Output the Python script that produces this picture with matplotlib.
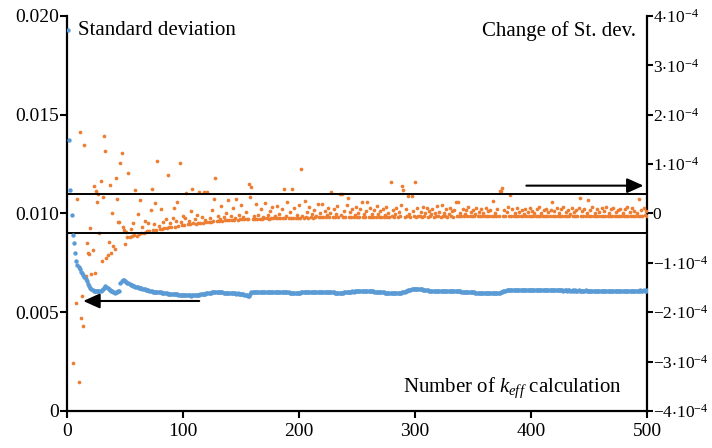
import matplotlib
matplotlib.use("Agg")
import matplotlib.pyplot as plt
import numpy as np

plt.rcParams['font.family'] = ['Liberation Serif', 'DejaVu Serif']
plt.rcParams['mathtext.fontset'] = 'custom'
plt.rcParams['mathtext.rm'] = 'Liberation Serif'
plt.rcParams['mathtext.it'] = 'Liberation Serif:italic'

# standard deviation, units of 1e-5 (left axis), x = 1..500
std_dev = [
    1930, 1370, 1120, 990, 890, 850, 800, 760, 740, 730, 720, 705, 700, 690, 678, 668, 658, 645, 635, 625,
    618, 612, 610, 608, 607, 608, 609, 610, 610, 612, 618, 625, 632, 628, 622, 618, 614, 610, 606, 602,
    599, 600, 603, 607, 606, 650, 658, 662, 664, 660, 655, 650, 646, 642, 640, 637, 634, 632, 630, 628,
    626, 625, 624, 622, 620, 618, 617, 615, 613, 611, 609, 607, 606, 605, 604, 604, 603, 602, 602, 601,
    600, 599, 598, 597, 596, 595, 594, 593, 593, 592, 592, 591, 591, 590, 590, 589, 589, 588, 588, 587,
    587, 586, 586, 585, 585, 585, 584, 585, 586, 585, 585, 586, 587, 588, 590, 591, 592, 593, 594, 595,
    596, 597, 598, 599, 600, 601, 601, 602, 602, 601, 602, 602, 601, 600, 599, 598, 597, 597, 596, 595,
    595, 596, 596, 595, 595, 594, 595, 594, 593, 592, 591, 590, 589, 587, 585, 583, 582, 590, 600, 603,
    603, 602, 603, 602, 601, 602, 603, 602, 602, 601, 602, 603, 602, 601, 602, 603, 603, 602, 601, 602,
    602, 603, 602, 601, 602, 602, 603, 602, 601, 600, 600, 599, 599, 598, 599, 598, 598, 599, 598, 598,
    599, 600, 600, 601, 601, 602, 602, 603, 602, 603, 603, 602, 603, 604, 603, 603, 604, 603, 603, 604,
    604, 603, 604, 603, 603, 602, 603, 602, 601, 600, 599, 598, 597, 597, 596, 596, 597, 598, 600, 602,
    603, 604, 605, 605, 605, 606, 605, 606, 606, 607, 606, 607, 607, 606, 607, 607, 606, 607, 607, 606,
    607, 607, 606, 606, 605, 604, 604, 603, 602, 601, 601, 600, 600, 599, 598, 598, 599, 598, 598, 599,
    598, 597, 597, 596, 595, 595, 596, 598, 600, 602, 605, 607, 609, 611, 613, 615, 617, 618, 619, 619,
    619, 619, 618, 618, 617, 616, 615, 614, 613, 612, 611, 610, 609, 608, 608, 607, 607, 607, 606, 607,
    607, 607, 607, 608, 607, 608, 608, 607, 607, 608, 607, 607, 608, 607, 607, 606, 607, 606, 606, 605,
    605, 604, 604, 603, 603, 602, 602, 601, 601, 600, 600, 599, 599, 599, 598, 598, 598, 598, 598, 597,
    597, 597, 598, 598, 597, 598, 597, 598, 598, 597, 598, 598, 599, 601, 603, 606, 608, 610, 611, 612,
    612, 613, 613, 614, 614, 614, 615, 615, 614, 615, 615, 614, 615, 615, 614, 614, 615, 614, 614, 615,
    615, 614, 614, 613, 614, 613, 613, 614, 613, 612, 613, 612, 612, 613, 612, 611, 612, 612, 611, 612,
    612, 611, 612, 611, 611, 612, 611, 610, 611, 611, 610, 611, 611, 610, 610, 611, 610, 611, 610, 610,
    611, 610, 610, 609, 610, 610, 611, 610, 609, 610, 610, 609, 610, 609, 609, 610, 609, 609, 610, 609,
    609, 608, 609, 609, 608, 609, 608, 608, 609, 608, 608, 609, 608, 607, 608, 608, 607, 608, 608, 607,
    608, 608, 609, 608, 609, 609, 610, 609, 610, 610, 609, 610, 610, 611, 610, 610, 611, 610, 610, 611,
]

N = None
# change of standard deviation, units of 1e-6 (right axis), x = 1..500
change = [
    N, N, N, N, -303, N, N, -181, 29, -342, 166, -212, -168, -227, 139, -127, -59, -80, -83, -29,
    -122, -73, 55, -120, 46, 24, 39, -40, 66, -97, 33, 156, 127, -91, -85, -58, 57, -80, 0, -65,
    -72, 72, 29, -17, -17, 102, 122, -27, -33, -62, -38, -48, 83, -48, -31, -46, -20, -44, 47, -45,
    -2, -42, 27, -40, -28, -39, -15, -37, -36, -20, -35, 8, 49, -34, -22, 21, -33, 107, -25, -32,
    10, -31, -18, -30, -12, -29, 77, -28, -20, -27, -9, 12, -27, -15, 24, -25, 103, -18, -24, -5,
    -23, -10, 41, -22, -16, -21, 5, 49, -20, -12, -21, -4, -19, 44, -20, -8, -19, 44, -14, -18,
    44, -17, -9, -17, 8, -16, 30, 71, -16, -5, -15, -12, 15, -15, -8, -14, 2, -14, 28, -13,
    -6, -13, 12, -13, -9, 30, -13, -4, -12, 18, -12, -7, -12, 4, -11, -12, 60, 34, 53, -11,
    -5, -11, 20, -11, -3, -11, 10, -11, -8, -10, 22, -10, -4, -11, 6, -10, 14, -10, -6, -10,
    16, -10, -2, -10, 9, -10, 49, -9, -5, 24, -10, 3, -9, 50, -9, 12, -9, -3, -9, 18,
    -9, 91, -6, -9, 25, -8, 4, -9, 14, -8, -2, -9, 8, -8, -5, 20, -8, 1, -8, 20,
    -8, 6, -8, -3, 12, -8, 2, 44, -8, 10, -7, -2, 15, -8, 40, -4, 40, -8, 6, -7,
    18, 31, -8, 3, -7, 9, -8, -3, 14, -7, 2, -8, 10, 23, -7, -1, -8, 6, 23, -7,
    12, -8, -2, -7, 8, -7, 15, -1, -7, 5, -8, 10, -7, -3, 14, -7, 2, -7, 64, -6,
    8, -7, -2, 12, -7, 4, -6, 17, 55, 47, -7, 9, -6, 36, -2, -7, 36, 5, -6, 64,
    -7, 11, -5, -6, 3, -7, 14, -6, 0, 12, -7, 6, -6, -2, 9, -7, 2, -6, 15, -6,
    4, -7, 18, -6, 1, -6, 9, -7, -1, 12, -6, 5, -7, 8, 24, -6, 24, -5, 2, -6,
    10, -6, -1, 7, -6, 13, -5, 3, -6, 8, -6, -2, 11, -6, 4, -5, 9, -6, 0, -6,
    12, -6, 5, -5, 8, -6, 26, -5, 2, -6, 10, -5, 46, 45, 51, -6, 7, -5, 3, 14,
    -6, 38, -5, 9, -6, 1, -5, 12, -6, 4, -5, 8, -6, -1, 10, -5, 3, -6, 11, -5,
    6, -5, 2, -6, 9, -5, 13, -5, 0, -6, 7, -5, 10, -5, 3, -6, 8, 24, -5, 5,
    -5, 12, -6, 2, -5, 9, -5, 14, -6, 4, -5, 7, -5, -1, 11, -5, 3, -5, 8, -6,
    12, 32, -5, 5, -6, 10, -5, 2, 27, -5, 8, -5, 13, -5, 1, -6, 9, -5, 4, -5,
    11, -5, 6, -5, 14, -5, 2, -6, 9, -5, 12, -5, 3, -5, 7, -5, 10, -5, 1, -6,
    9, -5, 13, -5, 4, -5, 11, -5, 6, -5, 2, -5, 29, -5, 8, -5, 12, -4, 5, -5,
]

band = [-4e-5, 4e-5]          # reference lines on the right axis
left_ticks = [0, 0.005, 0.010, 0.015, 0.020]
left_labels = ["0", "0.005", "0.010", "0.015", "0.020"]
right_ticks = [-4e-4, -3e-4, -2e-4, -1e-4, 0, 1e-4, 2e-4, 3e-4, 4e-4]
right_labels = [r"$\mathregular{{-}4{\cdot}10^{-4}}$", r"$\mathregular{{-}3{\cdot}10^{-4}}$",
                r"$\mathregular{{-}2{\cdot}10^{-4}}$", r"$\mathregular{{-}1{\cdot}10^{-4}}$", "0",
                r"$\mathregular{1{\cdot}10^{-4}}$", r"$\mathregular{2{\cdot}10^{-4}}$",
                r"$\mathregular{3{\cdot}10^{-4}}$", r"$\mathregular{4{\cdot}10^{-4}}$"]

x = np.arange(1, 501)
std = np.array(std_dev, dtype=float) * 1e-5
chg = np.array([np.nan if v is None else v for v in change], dtype=float) * 1e-6

blue = "#5B9BD5"
orange = "#ED7D31"

fig = plt.figure(figsize=(7.12, 4.48), dpi=100)
ax = fig.add_axes([0.0941, 0.0826, 0.8146, 0.8817])
ax2 = ax.twinx()

ax.scatter(x, std, s=10, color=blue, linewidths=0, zorder=3)
ax2.scatter(x, chg, s=7, color=orange, linewidths=0, zorder=3)
for b in band:
    ax2.axhline(b, color="black", lw=1.4, zorder=4)

ax.set_xlim(0, 500)
ax.set_ylim(0, 0.020)
ax2.set_ylim(-4e-4, 4e-4)
ax.set_xticks([0, 100, 200, 300, 400, 500])
ax.set_yticks(left_ticks)
ax.set_yticklabels(left_labels)
ax2.set_yticks(right_ticks)
ax2.set_yticklabels(right_labels)

for a in (ax, ax2):
    a.spines["top"].set_visible(False)
    for s in a.spines.values():
        s.set_linewidth(1.6)
    a.tick_params(direction="out", length=5, width=1.5, labelsize=14, pad=1)
ax.spines["right"].set_visible(False)
ax2.spines["left"].set_visible(False)
ax2.spines["bottom"].set_visible(False)
ax.tick_params(axis="x", pad=4)
ax2.tick_params(axis="y", labelsize=12.5, length=4, pad=0)

# arrows pointing to the axis each series belongs to
ax.annotate("", xy=(14, 0.00557), xytext=(114, 0.00557),
            arrowprops=dict(arrowstyle="-|>,head_length=1.0,head_width=0.45",
                            color="black", lw=1.5, shrinkA=0, shrinkB=0), zorder=5)
ax.annotate("", xy=(497, 0.01141), xytext=(396, 0.01141),
            arrowprops=dict(arrowstyle="-|>,head_length=1.0,head_width=0.45",
                            color="black", lw=1.5, shrinkA=0, shrinkB=0), zorder=5)

ax.text(0.019, 0.963, "Standard deviation", transform=ax.transAxes,
        fontsize=15, ha="left", va="center")
ax.text(0.981, 0.963, "Change of St. dev.", transform=ax.transAxes,
        fontsize=15, ha="right", va="center")
ax.text(0.957, 0.058, r"Number of $k_{eff}$ calculation", transform=ax.transAxes,
        fontsize=15, ha="right", va="center")

ax.set_zorder(ax2.get_zorder() + 1)
ax.patch.set_visible(False)

fig.savefig("out.png", dpi=100)
